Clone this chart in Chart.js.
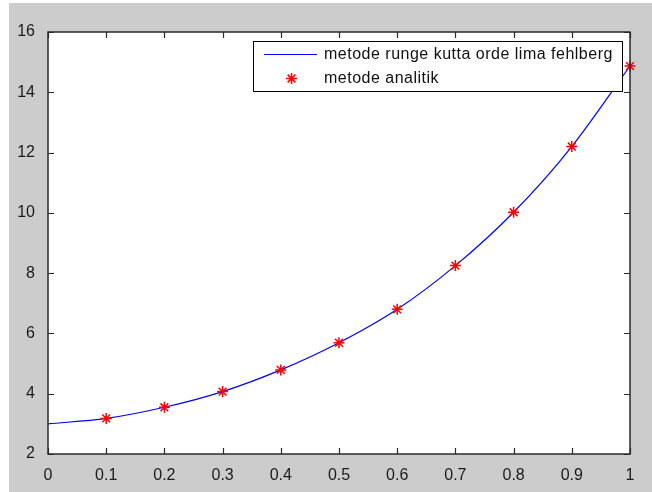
<!DOCTYPE html>
<html>
<head>
<meta charset="utf-8">
<script src="https://cdn.jsdelivr.net/npm/chart.js@4/dist/chart.umd.min.js"></script>
<style>
  html, body { margin: 0; padding: 0; background: #ffffff; }
  canvas { display: block; }
</style>
</head>
<body>
<canvas id="rkfChart" width="652" height="492"></canvas>
<script>
// nilai yang dibaca dari gambar
const xSteps = [0, 0.1, 0.2, 0.3, 0.4, 0.5, 0.6, 0.7, 0.8, 0.9, 1];
const rkfValues = [3.00, 3.18, 3.55, 4.07, 4.79, 5.69, 6.80, 8.25, 10.02, 12.20, 14.87];
const analitikX = [0.1, 0.2, 0.3, 0.4, 0.5, 0.6, 0.7, 0.8, 0.9, 1];
const analitikValues = [3.18, 3.55, 4.07, 4.79, 5.69, 6.80, 8.25, 10.02, 12.20, 14.87];
const yTicks = [2, 4, 6, 8, 10, 12, 14, 16];
const xTickLabels = ['0', '0.1', '0.2', '0.3', '0.4', '0.5', '0.6', '0.7', '0.8', '0.9', '1'];
const seriesNames = ['metode runge kutta orde lima fehlberg', 'metode analitik'];

const FONT = "'Liberation Sans', Arial, Helvetica, sans-serif";

// latar belakang abu-abu ala figure matlab
const latarPlugin = {
    id: 'latar',
    beforeDraw(chart) {
        const ctx = chart.ctx;
        const a = chart.chartArea;
        ctx.save();
        ctx.fillStyle = '#ffffff';
        ctx.fillRect(0, 0, chart.width, chart.height);
        ctx.fillStyle = '#cccccc';
        ctx.fillRect(9, 3, chart.width - 9, chart.height - 3);
        ctx.fillStyle = '#ffffff';
        ctx.fillRect(a.left, a.top, a.right - a.left, a.bottom - a.top);
        ctx.restore();
    }
};

// legenda di dalam area plot + kotak sumbu dan tick ke dalam
const kotakPlugin = {
    id: 'kotak',
    afterDatasetsDraw(chart) {
        const ctx = chart.ctx;
        const a = chart.chartArea;
        const xs = chart.scales.x;
        const ys = chart.scales.y;

        // legenda
        const lx = a.right - 7, ly = a.top + 9, lw = 370, lh = 51;
        ctx.save();
        ctx.fillStyle = '#ffffff';
        ctx.fillRect(lx - lw, ly, lw, lh);
        ctx.strokeStyle = '#000000';
        ctx.lineWidth = 1;
        ctx.strokeRect(lx - lw + 0.5, ly + 0.5, lw - 1, lh - 1);

        const ds = chart.data.datasets;
        ctx.strokeStyle = ds[0].borderColor;
        ctx.lineWidth = 1.2;
        ctx.beginPath();
        ctx.moveTo(lx - lw + 11, ly + 13.5);
        ctx.lineTo(lx - lw + 64, ly + 13.5);
        ctx.stroke();

        ctx.strokeStyle = ds[1].borderColor;
        ctx.lineWidth = 1.5;
        ctx.beginPath();
        const sx = lx - lw + 38.5, sy = ly + 37.5, r = 5.5;
        ctx.moveTo(sx - r, sy); ctx.lineTo(sx + r, sy);
        ctx.moveTo(sx, sy - r); ctx.lineTo(sx, sy + r);
        ctx.moveTo(sx - r * 0.7, sy - r * 0.7); ctx.lineTo(sx + r * 0.7, sy + r * 0.7);
        ctx.moveTo(sx - r * 0.7, sy + r * 0.7); ctx.lineTo(sx + r * 0.7, sy - r * 0.7);
        ctx.stroke();

        ctx.fillStyle = '#111111';
        ctx.font = '16px ' + FONT;
        ctx.letterSpacing = '0.5px';
        ctx.textBaseline = 'middle';
        ctx.textAlign = 'left';
        ctx.fillText(ds[0].label, lx - lw + 71, ly + 14);
        ctx.fillText(ds[1].label, lx - lw + 71, ly + 38);
        ctx.letterSpacing = '0px';

        // kotak sumbu
        ctx.strokeStyle = '#2a2a2a';
        ctx.lineWidth = 1.5;
        ctx.strokeRect(a.left, a.top, a.right - a.left, a.bottom - a.top);

        // tick ke dalam di keempat sisi
        const tl = 6;
        ctx.lineWidth = 1.2;
        ctx.beginPath();
        xs.ticks.forEach(t => {
            const px = Math.round(xs.getPixelForValue(t.value)) + 0.5;
            ctx.moveTo(px, a.bottom); ctx.lineTo(px, a.bottom - tl);
            ctx.moveTo(px, a.top); ctx.lineTo(px, a.top + tl);
        });
        ys.ticks.forEach(t => {
            const py = Math.round(ys.getPixelForValue(t.value)) + 0.5;
            ctx.moveTo(a.left, py); ctx.lineTo(a.left + tl, py);
            ctx.moveTo(a.right, py); ctx.lineTo(a.right - tl, py);
        });
        ctx.stroke();
        ctx.restore();
    }
};

const ctx = document.getElementById('rkfChart').getContext('2d');

new Chart(ctx, {
    type: 'line',
    data: {
        datasets: [{
            label: seriesNames[0],
            data: xSteps.map((x, i) => ({ x: x, y: rkfValues[i] })),
            borderColor: '#0000ff',
            borderWidth: 1.2,
            pointRadius: 0,
            cubicInterpolationMode: 'monotone',
            fill: false,
            order: 2
        }, {
            label: seriesNames[1],
            data: analitikX.map((x, i) => ({ x: x, y: analitikValues[i] })),
            showLine: false,
            borderColor: '#ff0000',
            backgroundColor: '#ff0000',
            pointStyle: 'star',
            pointRadius: 5.5,
            pointBorderWidth: 1.5,
            clip: false,
            order: 1
        }]
    },
    options: {
        responsive: false,
        animation: false,
        devicePixelRatio: 1,
        layout: {
            padding: { left: 0, top: 32, right: 22, bottom: 0 }
        },
        plugins: {
            legend: { display: false },
            tooltip: { enabled: false }
        },
        scales: {
            x: {
                type: 'linear',
                min: 0,
                max: 1,
                afterBuildTicks(scale) {
                    scale.ticks = xSteps.map(v => ({ value: v }));
                },
                afterFit(scale) { scale.height = 38; },
                grid: { display: false },
                border: { display: false },
                ticks: {
                    color: '#1a1a1a',
                    padding: 4,
                    maxRotation: 0,
                    autoSkip: false,
                    font: { family: FONT, size: 16 },
                    callback: (v, i) => xTickLabels[i]
                }
            },
            y: {
                min: 2,
                max: 16,
                afterBuildTicks(scale) {
                    scale.ticks = yTicks.map(v => ({ value: v }));
                },
                afterFit(scale) { scale.width = 48; },
                grid: { display: false },
                border: { display: false },
                ticks: {
                    color: '#1a1a1a',
                    padding: 5,
                    autoSkip: false,
                    font: { family: FONT, size: 16 },
                    callback: v => String(v)
                }
            }
        }
    },
    plugins: [latarPlugin, kotakPlugin]
});
</script>
</body>
</html>
